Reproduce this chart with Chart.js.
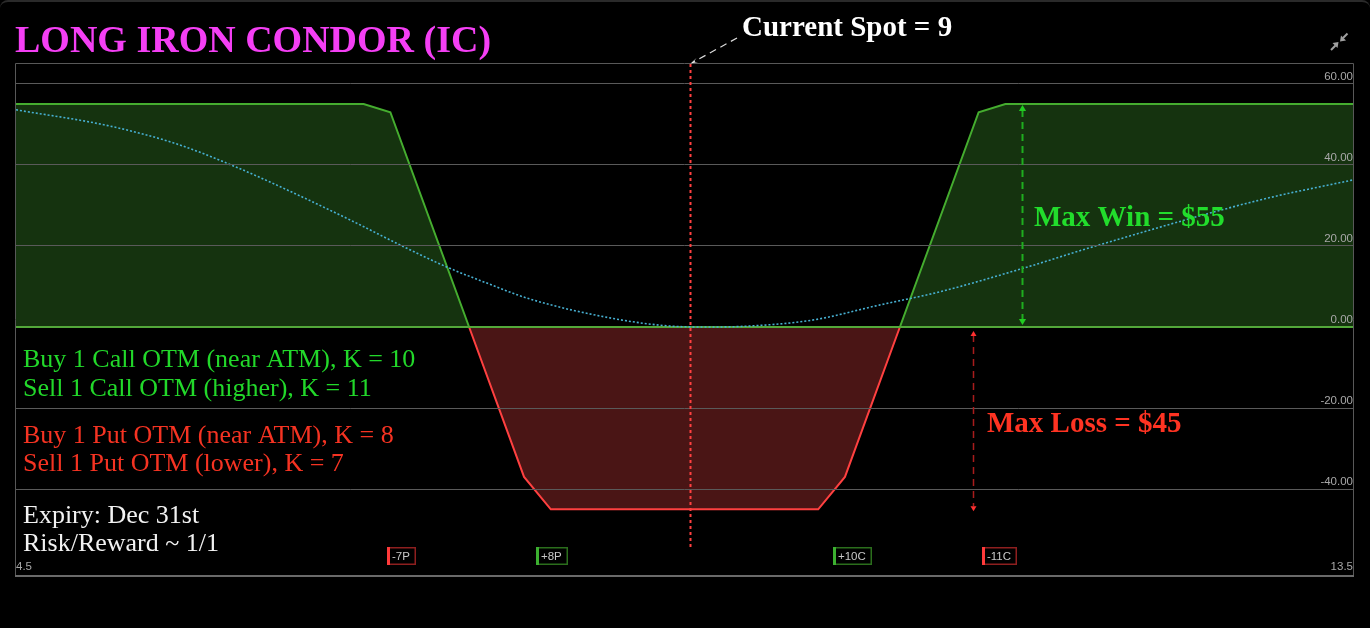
<!DOCTYPE html>
<html><head><meta charset="utf-8">
<script src="https://cdn.jsdelivr.net/npm/chart.js@4.4.1/dist/chart.umd.min.js"></script>
<style>
html,body{margin:0;padding:0;background:#000;}
#wrap{position:relative;width:1370px;height:628px;overflow:hidden;background:#000;}
#c{position:absolute;left:0;top:0;}
#frame{position:absolute;left:0;top:0;width:1370px;height:628px;box-sizing:border-box;border-top:2px solid #2a2a2a;border-radius:8px;pointer-events:none;}
</style></head><body>
<div id="wrap"><canvas id="c" width="1370" height="628"></canvas><div id="frame"></div></div>
<script>
// ---- data ----
const xMin = 4.5, xMax = 13.5;
const yMin = -61.2, yMax = 64.9;
const yTicks = [60, 40, 20, 0, -20, -40];
const xTicks = [4.5, 13.5];

// P&L at expiry (vertices)
const pnlX = [4.5, 6.84, 7.02, 7.55, 7.92, 8.1, 9.9, 10.08, 10.45, 10.98, 11.16, 13.5];
const pnlY = [55, 55, 53, 0, -37, -45, -45, -37, 0, 53, 55, 55];

// dotted curve
const curveX = [4.5, 5.13, 5.58, 5.96, 6.25, 6.75, 7.11, 7.40, 7.63, 7.96, 8.52, 8.88, 9.15, 9.42, 9.86, 10.31, 10.72, 11.29, 11.75, 12.88, 13.5];
const curveY = [53.6, 49.6, 45.2, 39.8, 35.1, 26.4, 19.8, 14.8, 11.4, 6.9, 2.1, 0.3, 0, 0.2, 1.7, 5.4, 8.7, 14.6, 19.8, 31.4, 36.3];

const zeroX = [4.5, 13.5];
const zeroY = [0, 0];

const strikes = [7, 8, 10, 11];
const strikeLabels = ['-7P', '+8P', '+10C', '-11C'];
const strikeSides = ['short', 'long', 'long', 'short'];

const spotX = 9.04;
const maxWin = 55, maxLoss = -45;
const maxWinX = 11.27, maxLossX = 10.94;

const titleText = 'LONG IRON CONDOR (IC)';
const spotText = 'Current Spot = 9';
const callLines = ['Buy 1 Call OTM (near ATM), K = 10', 'Sell 1 Call OTM (higher), K = 11'];
const putLines = ['Buy 1 Put OTM (near ATM), K = 8', 'Sell 1 Put OTM (lower), K = 7'];
const infoLines = ['Expiry: Dec 31st', 'Risk/Reward ~ 1/1'];
const winText = 'Max Win = $55';
const lossText = 'Max Loss = $45';

// ---- styles ----
const GREEN_LINE = '#45ad2f';
const RED_LINE = '#ff4040';
const SERIF = '"Liberation Serif", "DejaVu Serif", serif';
const SANS = '"Liberation Sans", Arial, sans-serif';

function toXY(xs, ys) { return xs.map((x, i) => ({ x: x, y: ys[i] })); }

function arrowHead(ctx, x, y, dir, size, color) {
  ctx.save();
  ctx.fillStyle = color;
  ctx.beginPath();
  ctx.moveTo(x, y);
  ctx.lineTo(x - size * 0.6, y - dir * size);
  ctx.lineTo(x + size * 0.6, y - dir * size);
  ctx.closePath();
  ctx.fill();
  ctx.restore();
}

const overlay = {
  id: 'overlay',
  afterDraw(chart) {
    const ctx = chart.ctx;
    const a = chart.chartArea;
    const xs = chart.scales.x, ys = chart.scales.y;
    ctx.save();

    // frame
    ctx.strokeStyle = '#585858';
    ctx.lineWidth = 1;
    ctx.beginPath();
    ctx.moveTo(a.left - 0.5, a.bottom); ctx.lineTo(a.left - 0.5, a.top - 0.5);
    ctx.lineTo(a.right + 0.5, a.top - 0.5); ctx.lineTo(a.right + 0.5, a.bottom);
    ctx.stroke();
    ctx.strokeStyle = '#6a6a6a';
    ctx.lineWidth = 2;
    ctx.beginPath();
    ctx.moveTo(a.left - 1, a.bottom + 1); ctx.lineTo(a.right + 1, a.bottom + 1);
    ctx.stroke();

    // spot line
    const sx = Math.round(xs.getPixelForValue(spotX)) + 0.5;
    ctx.strokeStyle = RED_LINE;
    ctx.lineWidth = 2;
    ctx.setLineDash([3, 3]);
    ctx.beginPath();
    ctx.moveTo(sx, a.top); ctx.lineTo(sx, 550);
    ctx.stroke();

    // spot pointer arrow
    ctx.strokeStyle = '#dddddd';
    ctx.lineWidth = 1.2;
    ctx.setLineDash([7, 5]);
    ctx.beginPath();
    ctx.moveTo(737, 38); ctx.lineTo(sx + 3, a.top - 2);
    ctx.stroke();
    ctx.setLineDash([]);
    ctx.fillStyle = '#eeeeee';
    ctx.beginPath();
    ctx.moveTo(sx, a.top - 0.5); ctx.lineTo(sx + 6, a.top - 6); ctx.lineTo(sx + 3, a.top - 2); ctx.lineTo(sx + 7.5, a.top - 2);
    ctx.closePath(); ctx.fill();

    // max win arrow
    const wx = Math.round(xs.getPixelForValue(maxWinX)) + 0.5;
    const w0 = ys.getPixelForValue(0), w1 = ys.getPixelForValue(maxWin);
    ctx.strokeStyle = '#1fae1f';
    ctx.lineWidth = 2;
    ctx.setLineDash([7, 5]);
    ctx.beginPath(); ctx.moveTo(wx, w1 + 6); ctx.lineTo(wx, w0 - 6); ctx.stroke();
    ctx.setLineDash([]);
    arrowHead(ctx, wx, w1 + 1, -1, 6, '#22cc22');
    arrowHead(ctx, wx, w0 - 2, 1, 6, '#22cc22');

    // max loss arrow
    const lx = Math.round(xs.getPixelForValue(maxLossX)) + 0.5;
    const l0 = ys.getPixelForValue(0), l1 = ys.getPixelForValue(maxLoss);
    ctx.strokeStyle = '#a81c1c';
    ctx.lineWidth = 1.5;
    ctx.setLineDash([7, 5]);
    ctx.beginPath(); ctx.moveTo(lx, l0 + 8); ctx.lineTo(lx, l1 - 3); ctx.stroke();
    ctx.setLineDash([]);
    arrowHead(ctx, lx, l0 + 4, -1, 5, '#ff3030');
    arrowHead(ctx, lx, l1 + 2, 1, 5, '#ff3030');

    // strike markers
    ctx.font = '11.5px ' + SANS;
    ctx.textBaseline = 'middle';
    ctx.textAlign = 'left';
    strikes.forEach((k, i) => {
      const px = Math.round(xs.getPixelForValue(k));
      const tw = ctx.measureText(strikeLabels[i]).width;
      const bw = Math.round(tw + 11), by = 547, bh = 18;
      const isLong = strikeSides[i] === 'long';
      ctx.fillStyle = '#000';
      ctx.fillRect(px, by, bw, bh);
      ctx.strokeStyle = isLong ? '#2b6e1c' : '#8e1f1f';
      ctx.lineWidth = 1.5;
      ctx.strokeRect(px + 0.75, by + 0.75, bw - 1.5, bh - 1.5);
      ctx.fillStyle = isLong ? '#3cb030' : '#ff3a3a';
      ctx.fillRect(px, by, 3, bh);
      ctx.fillStyle = '#c8c8c8';
      ctx.fillText(strikeLabels[i], px + 5, by + bh / 2 + 0.5);
    });

    // collapse icon
    ctx.strokeStyle = '#a0a0a0';
    ctx.fillStyle = '#a0a0a0';
    ctx.lineWidth = 2;
    ctx.beginPath(); ctx.moveTo(1331, 50); ctx.lineTo(1335.5, 45.5); ctx.stroke();
    ctx.beginPath(); ctx.moveTo(1338.5, 42); ctx.lineTo(1332.5, 43); ctx.lineTo(1337.5, 48); ctx.closePath(); ctx.fill();
    ctx.beginPath(); ctx.moveTo(1347.5, 33.5); ctx.lineTo(1343, 38); ctx.stroke();
    ctx.beginPath(); ctx.moveTo(1340, 41.5); ctx.lineTo(1346, 40.5); ctx.lineTo(1341, 35.5); ctx.closePath(); ctx.fill();

    // texts
    ctx.textBaseline = 'alphabetic';
    ctx.textAlign = 'left';
    ctx.font = 'bold 38px ' + SERIF;
    ctx.fillStyle = '#f43ff4';
    ctx.fillText(titleText, 15, 52);

    ctx.font = 'bold 29px ' + SERIF;
    ctx.fillStyle = '#ffffff';
    ctx.fillText(spotText, 742, 36);

    ctx.font = 'bold 29px ' + SERIF;
    ctx.fillStyle = '#22dd2c';
    ctx.fillText(winText, 1034, 226);
    ctx.fillStyle = '#ff3322';
    ctx.fillText(lossText, 987, 432);

    ctx.font = '26px ' + SERIF;
    ctx.fillStyle = '#22d82a';
    ctx.fillText(callLines[0], 23, 367);
    ctx.fillText(callLines[1], 23, 395.5);
    ctx.fillStyle = '#f53322';
    ctx.fillText(putLines[0], 23, 443);
    ctx.fillText(putLines[1], 23, 470.5);
    ctx.fillStyle = '#f2f2f2';
    ctx.fillText(infoLines[0], 23, 523);
    ctx.fillText(infoLines[1], 23, 551);

    ctx.restore();
  }
};

new Chart(document.getElementById('c'), {
  type: 'line',
  data: {
    datasets: [
      {
        label: 'P&L',
        data: toXY(pnlX, pnlY),
        borderColor: GREEN_LINE,
        borderWidth: 2,
        pointRadius: 0,
        tension: 0,
        fill: { target: { value: 0 }, above: '#15330f', below: '#4a1515' },
        segment: {
          borderColor: c => ((c.p0.parsed.y + c.p1.parsed.y) / 2 < 0 ? RED_LINE : GREEN_LINE)
        },
        order: 3
      },
      {
        label: 'zero',
        data: toXY(zeroX, zeroY),
        borderColor: '#53a83a',
        borderWidth: 2,
        pointRadius: 0,
        fill: false,
        order: 2
      },
      {
        label: 'curve',
        data: toXY(curveX, curveY),
        borderColor: '#47b0d2',
        borderWidth: 1.6,
        borderDash: [2, 2],
        pointRadius: 0,
        fill: false,
        cubicInterpolationMode: 'monotone',
        order: 1
      }
    ]
  },
  options: {
    responsive: false,
    devicePixelRatio: 1,
    animation: false,
    layout: { padding: { left: 16, right: 17, top: 64, bottom: 53 } },
    plugins: { legend: { display: false }, title: { display: false }, tooltip: { enabled: false } },
    scales: {
      x: {
        type: 'linear', min: xMin, max: xMax,
        afterBuildTicks: s => { s.ticks = xTicks.map(v => ({ value: v })); },
        afterFit: s => { s.height = 0; },
        grid: { display: false, drawTicks: false },
        border: { display: false },
        ticks: {
          z: 2, mirror: true, padding: 1, align: 'inner', maxRotation: 0,
          color: '#a8a8a8', font: { family: 'Liberation Sans', size: 11.5 },
          callback: v => String(v)
        }
      },
      y: {
        type: 'linear', position: 'right', min: yMin, max: yMax,
        afterBuildTicks: s => { s.ticks = yTicks.map(v => ({ value: v })); },
        afterFit: s => { s.width = 0; },
        grid: { z: 1, drawTicks: false, color: c => (c.tick && c.tick.value === 0 ? 'rgba(0,0,0,0)' : '#5a5a5a') },
        border: { display: false },
        ticks: {
          z: 2, mirror: true, padding: 0, labelOffset: -7,
          color: '#a8a8a8', font: { family: 'Liberation Sans', size: 11.5 },
          callback: v => Number(v).toFixed(2)
        }
      }
    }
  },
  plugins: [overlay]
});
</script>
</body></html>
